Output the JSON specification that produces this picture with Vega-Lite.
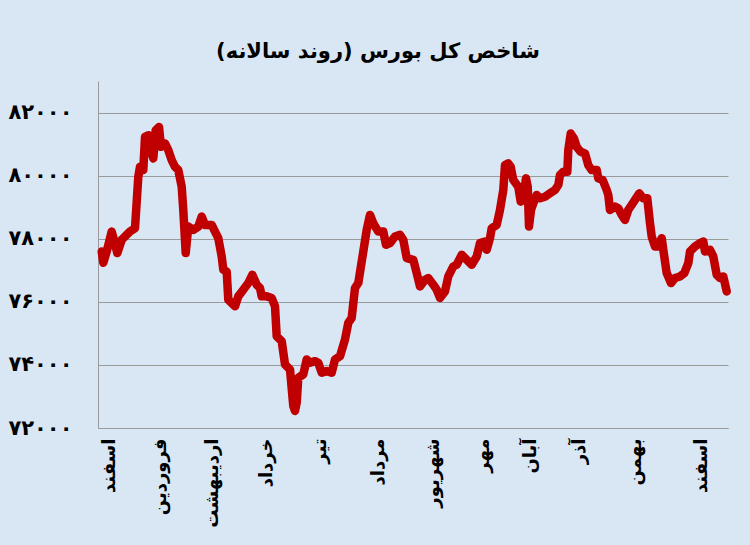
{
  "$schema": "https://vega.github.io/schema/vega-lite/v6.json",
  "autosize": {"type": "none"},
  "width": 630,
  "height": 347,
  "padding": {"left": 98, "top": 81, "right": 22, "bottom": 117},
  "background": "#d9e7f5",
  "title": {
    "text": "شاخص کل بورس (روند سالانه)",
    "font": "DejaVu Sans",
    "fontSize": 21,
    "fontWeight": "bold",
    "color": "#000000",
    "anchor": "middle",
    "frame": "group",
    "dx": -35,
    "offset": 19
  },
  "data": {
    "values": [
      {"t": 3.7, "index": 77595}, {"t": 5.3, "index": 77238}, {"t": 8.7, "index": 77595},
      {"t": 13.7, "index": 78227}, {"t": 16, "index": 77965}, {"t": 19.3, "index": 77544},
      {"t": 23.7, "index": 77965}, {"t": 27, "index": 78069}, {"t": 32, "index": 78227},
      {"t": 37, "index": 78334}, {"t": 40.3, "index": 79965}, {"t": 42, "index": 80281},
      {"t": 45.3, "index": 80177}, {"t": 47, "index": 81229}, {"t": 50.3, "index": 81283},
      {"t": 52, "index": 80913}, {"t": 55.3, "index": 80546}, {"t": 57.7, "index": 81441},
      {"t": 61, "index": 81545}, {"t": 63, "index": 80913}, {"t": 67, "index": 81020},
      {"t": 70.3, "index": 80809}, {"t": 73.7, "index": 80493}, {"t": 77, "index": 80281},
      {"t": 80.3, "index": 80177}, {"t": 83.7, "index": 79649}, {"t": 85.3, "index": 78913},
      {"t": 87.7, "index": 77544}, {"t": 90.3, "index": 78385}, {"t": 95.3, "index": 78281},
      {"t": 100.3, "index": 78385}, {"t": 103.7, "index": 78701}, {"t": 107, "index": 78439},
      {"t": 113.7, "index": 78439}, {"t": 117, "index": 78227}, {"t": 120.3, "index": 78018},
      {"t": 123.7, "index": 77437}, {"t": 125.3, "index": 77017}, {"t": 128.7, "index": 76963},
      {"t": 130.3, "index": 76069}, {"t": 137, "index": 75857}, {"t": 140.3, "index": 76173},
      {"t": 145.3, "index": 76385}, {"t": 150.3, "index": 76596}, {"t": 154.3, "index": 76859},
      {"t": 158.7, "index": 76543}, {"t": 162, "index": 76438}, {"t": 163.7, "index": 76173},
      {"t": 168.7, "index": 76173}, {"t": 173.7, "index": 76122}, {"t": 177, "index": 75857},
      {"t": 178.7, "index": 74909}, {"t": 183.7, "index": 74751}, {"t": 187, "index": 74015},
      {"t": 192, "index": 73857}, {"t": 195.3, "index": 72697}, {"t": 197, "index": 72539},
      {"t": 198.7, "index": 72804}, {"t": 200.3, "index": 73594}, {"t": 205.3, "index": 73699},
      {"t": 208.7, "index": 74173}, {"t": 212, "index": 74068}, {"t": 217, "index": 74119},
      {"t": 220.3, "index": 74068}, {"t": 223.7, "index": 73752}, {"t": 228.7, "index": 73803},
      {"t": 233.7, "index": 73752}, {"t": 237, "index": 74173}, {"t": 242, "index": 74277},
      {"t": 247, "index": 74805}, {"t": 250.3, "index": 75332}, {"t": 253.7, "index": 75490},
      {"t": 257, "index": 76438}, {"t": 260.3, "index": 76596}, {"t": 265.3, "index": 77595},
      {"t": 268.7, "index": 78281}, {"t": 272, "index": 78755}, {"t": 275.3, "index": 78492},
      {"t": 280.3, "index": 78227}, {"t": 285.3, "index": 78227}, {"t": 288, "index": 77807},
      {"t": 292, "index": 77860}, {"t": 297, "index": 78069}, {"t": 302, "index": 78123},
      {"t": 305.3, "index": 77965}, {"t": 308.7, "index": 77386}, {"t": 315.3, "index": 77333},
      {"t": 318.7, "index": 76912}, {"t": 322, "index": 76489}, {"t": 327, "index": 76701},
      {"t": 330.3, "index": 76754}, {"t": 335.3, "index": 76543}, {"t": 338.7, "index": 76385},
      {"t": 342, "index": 76122}, {"t": 347, "index": 76331}, {"t": 350.3, "index": 76805},
      {"t": 355.3, "index": 77121}, {"t": 358.7, "index": 77175}, {"t": 363.7, "index": 77491},
      {"t": 368.7, "index": 77333}, {"t": 373.7, "index": 77175}, {"t": 378.7, "index": 77437},
      {"t": 382, "index": 77860}, {"t": 387, "index": 77911}, {"t": 388.7, "index": 77649},
      {"t": 392, "index": 78018}, {"t": 393.7, "index": 78334}, {"t": 398.7, "index": 78439},
      {"t": 402, "index": 78913}, {"t": 405.3, "index": 79545}, {"t": 407, "index": 80335},
      {"t": 410.3, "index": 80388}, {"t": 412.7, "index": 80281}, {"t": 415.3, "index": 79861},
      {"t": 420.3, "index": 79649}, {"t": 422.7, "index": 79175}, {"t": 426, "index": 79440},
      {"t": 428, "index": 79914}, {"t": 429.7, "index": 79649}, {"t": 431, "index": 78385},
      {"t": 433, "index": 78913}, {"t": 435.3, "index": 79124}, {"t": 438.7, "index": 79387},
      {"t": 442, "index": 79282}, {"t": 447, "index": 79333}, {"t": 452, "index": 79440},
      {"t": 457, "index": 79545}, {"t": 460.3, "index": 79703}, {"t": 462, "index": 80019},
      {"t": 465.3, "index": 80123}, {"t": 469.3, "index": 80123}, {"t": 470.3, "index": 80809},
      {"t": 472.7, "index": 81336}, {"t": 476, "index": 81178}, {"t": 478.7, "index": 80913},
      {"t": 482.7, "index": 80755}, {"t": 487, "index": 80704}, {"t": 490.3, "index": 80335},
      {"t": 493.7, "index": 80177}, {"t": 498.7, "index": 80177}, {"t": 500.3, "index": 79914},
      {"t": 504.7, "index": 79861}, {"t": 508.7, "index": 79545}, {"t": 510.3, "index": 79387},
      {"t": 512, "index": 78913}, {"t": 517, "index": 79017}, {"t": 520.3, "index": 78966},
      {"t": 523.7, "index": 78755}, {"t": 527, "index": 78597}, {"t": 530.3, "index": 78913},
      {"t": 533.7, "index": 79071}, {"t": 537, "index": 79229}, {"t": 541.3, "index": 79440},
      {"t": 545.3, "index": 79282}, {"t": 549.3, "index": 79282}, {"t": 552, "index": 78492},
      {"t": 553.7, "index": 78069}, {"t": 557, "index": 77753}, {"t": 560.3, "index": 77753},
      {"t": 563.7, "index": 78018}, {"t": 565.3, "index": 77649}, {"t": 568.7, "index": 76912},
      {"t": 573, "index": 76596}, {"t": 577, "index": 76754}, {"t": 582, "index": 76805},
      {"t": 586.3, "index": 76912}, {"t": 590.3, "index": 77228}, {"t": 592, "index": 77595},
      {"t": 597, "index": 77753}, {"t": 602, "index": 77860}, {"t": 605.3, "index": 77911},
      {"t": 607, "index": 77595}, {"t": 612, "index": 77649}, {"t": 615.3, "index": 77437},
      {"t": 618.7, "index": 76859}, {"t": 622, "index": 76754}, {"t": 625.3, "index": 76805},
      {"t": 628.7, "index": 76331}
    ]
  },
  "mark": {
    "type": "line",
    "color": "#c00000",
    "strokeWidth": 8.5,
    "strokeJoin": "round",
    "strokeCap": "round"
  },
  "encoding": {
    "x": {
      "field": "t",
      "type": "quantitative",
      "scale": {"domain": [0, 630], "nice": false, "zero": false},
      "axis": {
        "title": null,
        "values": [11, 62, 114, 168, 222, 280, 335, 385, 432, 481, 537, 603],
        "labelExpr": "['اسفند','فروردین','اردیبهشت','خرداد','تیر','مرداد','شهریور','مهر','آبان','آذر','بهمن','اسفند'][indexof([11, 62, 114, 168, 222, 280, 335, 385, 432, 481, 537, 603], datum.value)]",
        "labelAngle": -90,
        "labelFont": "DejaVu Sans",
        "labelFontWeight": "bold",
        "labelFontSize": 18,
        "labelColor": "#000000",
        "labelPadding": 10,
        "labelOverlap": false,
        "labelFlush": false,
        "ticks": false,
        "grid": false,
        "domainColor": "#9a9a9a",
        "domainWidth": 1
      }
    },
    "y": {
      "field": "index",
      "type": "quantitative",
      "scale": {"domain": [72000, 83000], "nice": false, "zero": false},
      "axis": {
        "title": null,
        "values": [72000, 74000, 76000, 78000, 80000, 82000],
        "format": "d",
        "labelExpr": "replace(replace(replace(replace(replace(replace(datum.label, regexp('0','g'), '۰'), regexp('2','g'), '۲'), regexp('4','g'), '۴'), regexp('6','g'), '۶'), regexp('7','g'), '۷'), regexp('8','g'), '۸')",
        "labelFont": "DejaVu Sans",
        "labelFontWeight": "bold",
        "labelFontSize": 21,
        "labelColor": "#000000",
        "labelPadding": 26,
        "ticks": false,
        "gridColor": "#9a9a9a",
        "gridWidth": 1,
        "domainColor": "#9a9a9a",
        "domainWidth": 1
      }
    }
  },
  "config": {
    "view": {"stroke": null}
  }
}
